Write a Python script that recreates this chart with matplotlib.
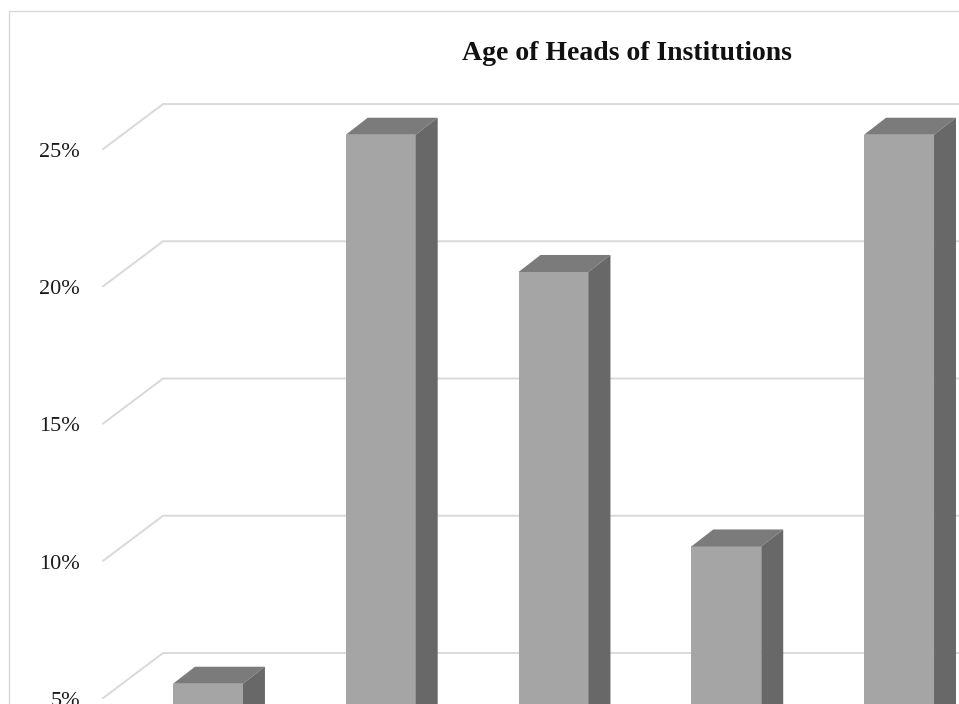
import matplotlib
matplotlib.use("Agg")
import matplotlib.pyplot as plt
from matplotlib.patches import Polygon, Rectangle

# data
categorias = ["A", "B", "C", "D", "E"]
valores = [5, 25, 20, 10, 25]
grade = [5, 10, 15, 20, 25]
rotulos = ["5%", "10%", "15%", "20%", "25%"]
titulo = "Age of Heads of Institutions"

# estilo / geometria 3D (unidades: categoria no x, % no y)
cor_frente = "#a5a5a5"
cor_topo = "#7b7b7b"
cor_lado = "#686868"
cor_grade = "#d9d9d9"
largura = 0.405
barra_dx, barra_dy = 0.127, 0.62
fundo_dx, fundo_dy = 0.229, 1.12
parede_dx, parede_dy = 0.347, 1.64
parede_x = -0.26

fig = plt.figure(figsize=(9.59, 7.04), dpi=100)
ax = fig.add_axes([0, 0, 1, 1])
ax.set_xlim(-1.204, 4.347)
ax.set_ylim(4.262, 29.909)
ax.axis("off")

# linhas de grade: parede lateral (diagonal) + parede do fundo
for g, r in zip(grade, rotulos):
    yb = g + fundo_dy
    ax.plot([parede_x - parede_dx, parede_x, 4.5],
            [yb - parede_dy, yb, yb], color=cor_grade, lw=1.4, zorder=1,
            solid_joinstyle="miter")
    ax.text(-0.741, yb - parede_dy - 0.12, r, ha="right", va="center",
            fontsize=16, family="Liberation Serif", color="#1a1a1a")

# barras 3D
xs = list(range(len(categorias)))
ax.bar(xs, valores, width=largura, color=cor_frente, zorder=3)
for x, v in zip(xs, valores):
    e, d = x - largura / 2, x + largura / 2
    topo = [(e, v), (d, v), (d + barra_dx, v + barra_dy), (e + barra_dx, v + barra_dy)]
    lado = [(d, 0), (d, v), (d + barra_dx, v + barra_dy), (d + barra_dx, barra_dy)]
    ax.add_patch(Polygon(topo, closed=True, facecolor=cor_topo, edgecolor="none", zorder=3))
    ax.add_patch(Polygon(lado, closed=True, facecolor=cor_lado, edgecolor="none", zorder=3))

# moldura do grafico
fig.patches.append(Rectangle((9 / 959, -0.1), 1.2, 1 - 11 / 704 + 0.1,
                             transform=fig.transFigure, fill=False,
                             edgecolor=cor_grade, lw=1.0))

fig.text(626.5 / 959, 1 - 53 / 704, titulo, ha="center", va="center",
         fontsize=20, fontweight="bold", family="Liberation Serif", color="#111111")

fig.savefig("out.png", dpi=100)
